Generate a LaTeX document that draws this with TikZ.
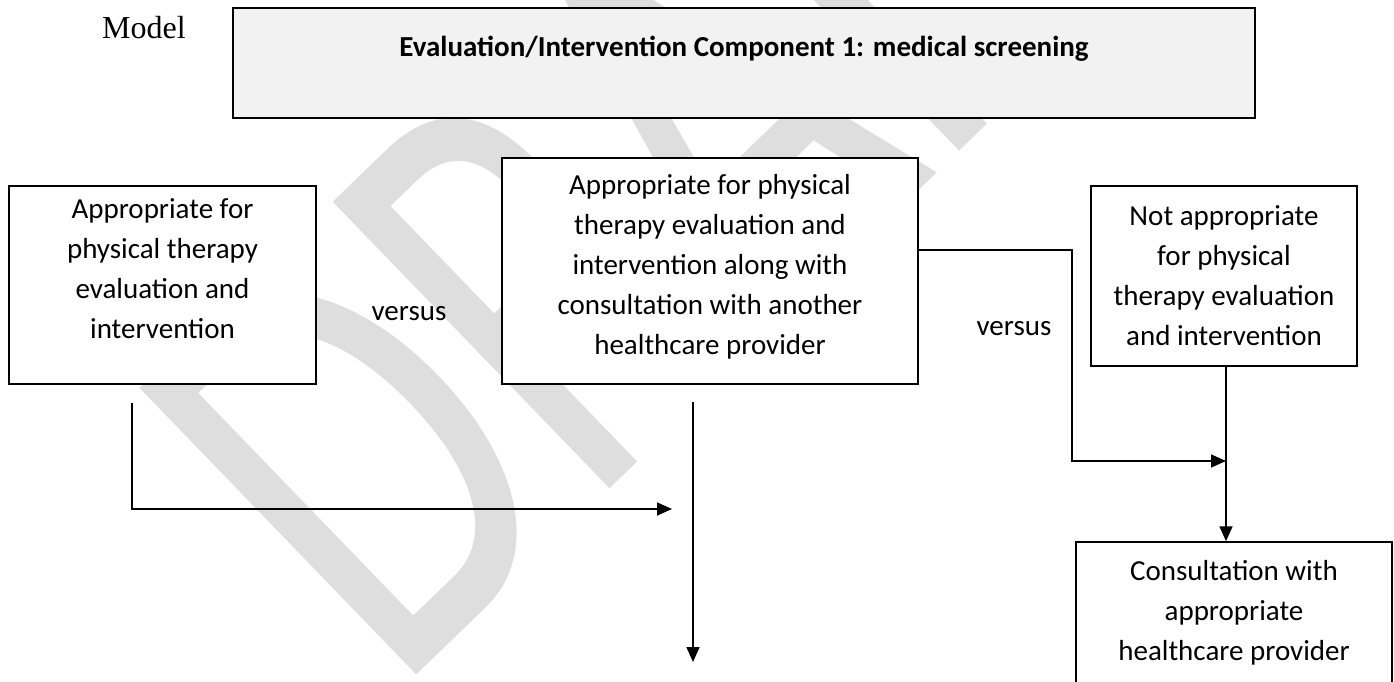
\documentclass[tikz,border=0pt]{standalone}
\usepackage{fontspec}
\setmainfont{Carlito}
\newfontfamily\timesf{Liberation Serif}
\usetikzlibrary{arrows.meta}
\definecolor{wm}{RGB}{222,222,222}
\definecolor{topfill}{RGB}{242,242,242}
\begin{document}
\begin{tikzpicture}[x=1pt,y=-1pt,
  boxshape/.style={draw=black, fill=white, line width=1.5pt, inner sep=0pt},
  boxtext/.style={font=\fontsize{29}{40}\selectfont, align=center, inner sep=0pt, anchor=north},
  plain/.style={font=\fontsize{29}{40}\selectfont, inner sep=0pt, anchor=base},
  conn/.style={line width=1.6pt, draw=black},
  arr/.style={conn, -{Triangle[length=15pt,width=13pt]}}]
\useasboundingbox (0,0) rectangle (1394,682);
\clip (0,0) rectangle (1394,682);
% watermark
\node[rotate=44, xscale=0.70, anchor=base west, text=wm, inner sep=0pt,
      font=\fontsize{621}{621}\selectfont] (wmark) at (395,696) {DRAFT};
% heading
\node[font=\timesf\fontsize{32}{32}\selectfont, inner sep=0pt, anchor=base west] (model) at (102,39) {Model};
\node[draw=black, fill=topfill, line width=2.4pt, minimum width=1022pt, minimum height=110pt, inner sep=0pt] (top) at (744,63) {};
\node[font=\bfseries\fontsize{29}{40}\selectfont, inner sep=0pt, anchor=base] (title) at (744,57) {Evaluation/Intervention Component 1: medical screening};
% boxes
\node[boxshape, minimum width=307pt, minimum height=198pt] (A) at (162.5,285) {};
\node[boxshape, minimum width=416pt, minimum height=226pt] (B) at (710,271) {};
\node[boxshape, minimum width=266pt, minimum height=180pt] (C) at (1224,276) {};
\node[boxshape, minimum width=316pt, minimum height=200pt] (D) at (1234,642) {};
\node[boxtext] (Atext) at (162.5,196) {\rule{0pt}{22pt}Appropriate for\\physical therapy\\evaluation and\\intervention};
\node[boxtext] (Btext) at (710,172) {\rule{0pt}{22pt}Appropriate for physical\\therapy evaluation and\\intervention along with\\consultation with another\\healthcare provider};
\node[boxtext] (Ctext) at (1224,203) {\rule{0pt}{22pt}Not appropriate\\for physical\\therapy evaluation\\and intervention};
\node[boxtext] (Dtext) at (1234,558) {\rule{0pt}{22pt}Consultation with\\appropriate\\healthcare provider};
\node[plain] (vs1) at (409,320) {versus};
\node[plain] (vs2) at (1014,335) {versus};
% connectors
\coordinate (a0) at (132,403);
\coordinate (a1) at (132,509);
\coordinate (a2) at (672,509);
\coordinate (b0) at (693,402);
\coordinate (b1) at (693,662);
\coordinate (bc1) at (1072,250);
\coordinate (bc2) at (1072,461);
\coordinate (c1) at (1226,461);
\draw[arr] (a0) -- (a1) -- (a2);
\draw[arr] (b0) -- (b1);
\draw[arr] (B.east |- bc1) -- (bc1) -- (bc2) -- (c1);
\draw[arr] (C.south -| c1) -- (D.north -| c1);
\end{tikzpicture}
\end{document}
